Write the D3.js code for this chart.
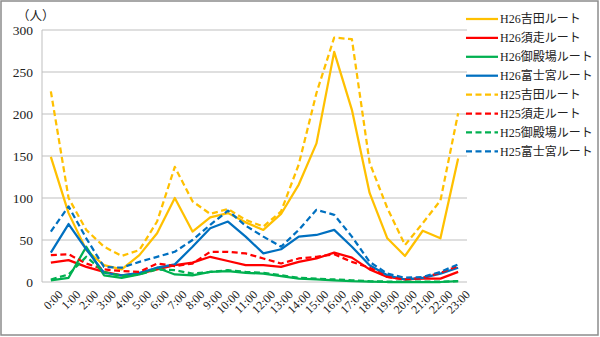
<!DOCTYPE html>
<html><head><meta charset="utf-8">
<script src="https://cdn.jsdelivr.net/npm/d3@7"></script>
<style>
body{margin:0;background:#fff;}
svg{display:block;}
text{font-family:"Liberation Serif","DejaVu Serif","Noto Sans CJK JP",serif;fill:#222;}
</style></head>
<body>
<svg id="c" width="600" height="337"></svg>
<script>
const hours = ["0:00","1:00","2:00","3:00","4:00","5:00","6:00","7:00","8:00","9:00","10:00","11:00","12:00","13:00","14:00","15:00","16:00","17:00","18:00","19:00","20:00","21:00","22:00","23:00"];
const yTicks = [0,50,100,150,200,250,300];
const seriesNames = ["H26吉田ルート","H26須走ルート","H26御殿場ルート","H26富士宮ルート","H25吉田ルート","H25須走ルート","H25御殿場ルート","H25富士宮ルート"];
const seriesColors = ["#FFC000","#FF0000","#00B050","#0070C0","#FFC000","#FF0000","#00B050","#0070C0"];
const seriesDashed = [false,false,false,false,true,true,true,true];
const h26Yoshida  = [149,82,38,20,15,32,58,100,60,77,82,71,62,81,116,165,274,205,106,52,31,61,52,147];
const h26Subashiri= [23,26,18,12,8,10,15,20,23,30,25,20,20,18,24,28,35,29,15,6,3,4,4,12];
const h26Gotemba  = [2,5,42,8,5,9,17,9,8,12,13,11,10,7,4,3,2,1,0.5,0,0,0,0,1];
const h26Fujinomiya=[35,69,39,11,8,11,17,21,42,64,72,54,34,39,54,56,62,42,20,8,3,5,10,17];
const h25Yoshida  = [227,100,62,42,31,38,72,137,96,81,87,74,66,84,140,225,291,289,142,88,44,70,97,201];
const h25Subashiri= [32,33,22,15,13,12,22,19,22,36,36,34,28,22,28,30,33,24,17,6,3,5,11,19];
const h25Gotemba  = [3,9,30,12,7,9,15,14,10,12,14,12,11,8,5,4,3,2,1,0.5,0.5,0.5,0.5,1];
const h25Fujinomiya=[60,90,52,18,17,24,30,36,50,68,85,67,54,42,62,86,80,54,24,10,5,6,12,21];
const seriesValues = [h26Yoshida,h26Subashiri,h26Gotemba,h26Fujinomiya,h25Yoshida,h25Subashiri,h25Gotemba,h25Fujinomiya];

const svg = d3.select("#c");
svg.append("rect").attr("x",1).attr("y",1).attr("width",597).attr("height",334)
  .attr("fill","#fff").attr("stroke","#8c8c8c").attr("stroke-width",1.5);

const L=42, R=467, T=30, B=282;
const x = d3.scalePoint().domain(hours).range([L,R]).padding(0.5);
const y = d3.scaleLinear().domain([0,300]).range([B,T]);

svg.append("g").selectAll("line").data(yTicks).join("line")
  .attr("x1",L).attr("x2",R).attr("y1",d=>y(d)).attr("y2",d=>y(d))
  .attr("stroke","#bfbfbf").attr("stroke-width",1);
svg.append("line").attr("x1",L).attr("x2",L).attr("y1",T).attr("y2",B)
  .attr("stroke","#bfbfbf").attr("stroke-width",1);

const ya = svg.append("g").attr("transform",`translate(${L},0)`)
  .call(d3.axisLeft(y).tickValues(yTicks).tickSize(0).tickPadding(9));
ya.select(".domain").remove();
ya.selectAll("text").attr("font-size",13.5).attr("font-family","Liberation Serif, serif").attr("fill","#222");

const xa = svg.append("g").attr("transform",`translate(0,${B})`)
  .call(d3.axisBottom(x).tickSize(0).tickPadding(6));
xa.select(".domain").remove();
xa.selectAll("text").attr("font-size",12).attr("font-family","Liberation Serif, serif").attr("fill","#222")
  .attr("text-anchor","end").attr("dy","0.35em")
  .attr("transform","translate(5,6) rotate(-45)");

svg.append("text").attr("x",17).attr("y",20).attr("font-size",12.5).text("（人）");

const line = d3.line().x((d,i)=>x(hours[i])).y(d=>y(d));
seriesValues.forEach((vals,k)=>{
  svg.append("path").datum(vals).attr("d",line).attr("fill","none")
    .attr("stroke",seriesColors[k]).attr("stroke-width",2.25)
    .attr("stroke-linejoin","round")
    .attr("stroke-dasharray",seriesDashed[k]?"6,3.5":null);
});

const lg = svg.append("g");
seriesNames.forEach((n,k)=>{
  const yy = 19 + k*18.9;
  lg.append("line").attr("x1",466).attr("x2",498).attr("y1",yy).attr("y2",yy)
    .attr("stroke",seriesColors[k]).attr("stroke-width",2.25)
    .attr("stroke-dasharray",seriesDashed[k]?"6,3.5":null);
  lg.append("text").attr("x",500).attr("y",yy).attr("dy","0.36em").attr("font-size",12).text(n);
});
</script>
</body></html>
